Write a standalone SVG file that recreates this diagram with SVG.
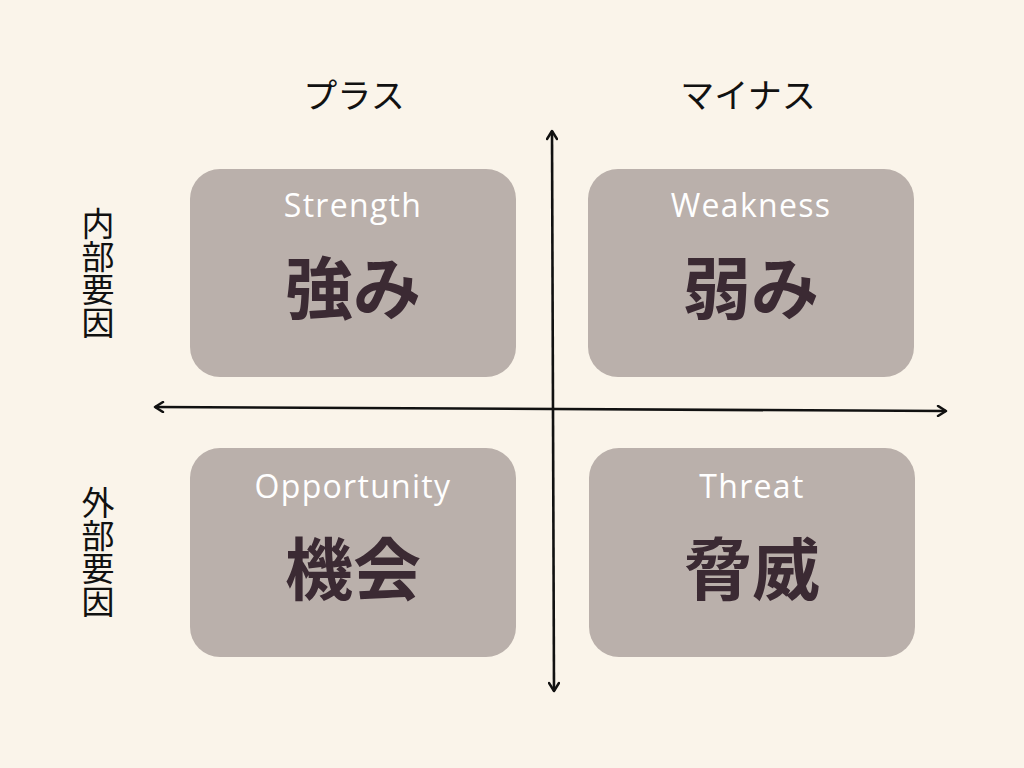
<svg xmlns="http://www.w3.org/2000/svg" width="1024" height="768" viewBox="0 0 1024 768">
<defs>
<marker id="ah" viewBox="0 0 12 12" refX="10" refY="6" markerWidth="12" markerHeight="12" markerUnits="userSpaceOnUse" orient="auto-start-reverse">
<path d="M2,1 L10,6 L2,11" fill="none" stroke="#111" stroke-width="2.5" stroke-linecap="round" stroke-linejoin="round"/>
</marker>
<style>
.box{fill:#bab0ab;}
.en{font-family:"Open Sans","Noto Sans","Noto Sans CJK JP",sans-serif;font-size:32px;fill:#ffffff;text-anchor:middle;letter-spacing:1.3px;}
.jp{font-family:"Noto Sans CJK JP",sans-serif;font-size:68px;font-weight:bold;fill:#3b2a33;text-anchor:middle;}
.lbl{font-family:"Noto Sans CJK JP",sans-serif;font-size:34px;fill:#111;text-anchor:middle;}
.vl{font-family:"Noto Sans CJK JP",sans-serif;font-size:33px;fill:#111;writing-mode:vertical-rl;}
.ax{stroke:#111;stroke-width:2.6;fill:none;marker-start:url(#ah);marker-end:url(#ah);}
</style>
</defs>
<rect width="1024" height="768" fill="#faf4ea"/>
<g id="connectors">
<line class="ax" x1="155" y1="407" x2="946" y2="411"/>
<line class="ax" x1="552" y1="131" x2="554" y2="691"/>
</g>
<g id="label-plus"><text class="lbl" x="354" y="108">プラス</text></g>
<g id="label-minus"><text class="lbl" x="748" y="108">マイナス</text></g>
<g id="label-internal"><text class="vl" x="98" y="207">内部要因</text></g>
<g id="label-external"><text class="vl" x="98" y="486">外部要因</text></g>
<g id="strength">
<rect class="box" x="190" y="169" width="326" height="208" rx="30"/>
<text class="en" x="353" y="217">Strength</text>
<text class="jp" x="353" y="314">強み</text>
</g>
<g id="weakness">
<rect class="box" x="588" y="169" width="326" height="208" rx="30"/>
<text class="en" x="751" y="217">Weakness</text>
<text class="jp" x="751" y="314">弱み</text>
</g>
<g id="opportunity">
<rect class="box" x="190" y="448" width="326" height="209" rx="30"/>
<text class="en" x="353" y="498">Opportunity</text>
<text class="jp" x="353" y="595">機会</text>
</g>
<g id="threat">
<rect class="box" x="589" y="448" width="326" height="209" rx="30"/>
<text class="en" x="752" y="498">Threat</text>
<text class="jp" x="752" y="595">脅威</text>
</g>
</svg>
